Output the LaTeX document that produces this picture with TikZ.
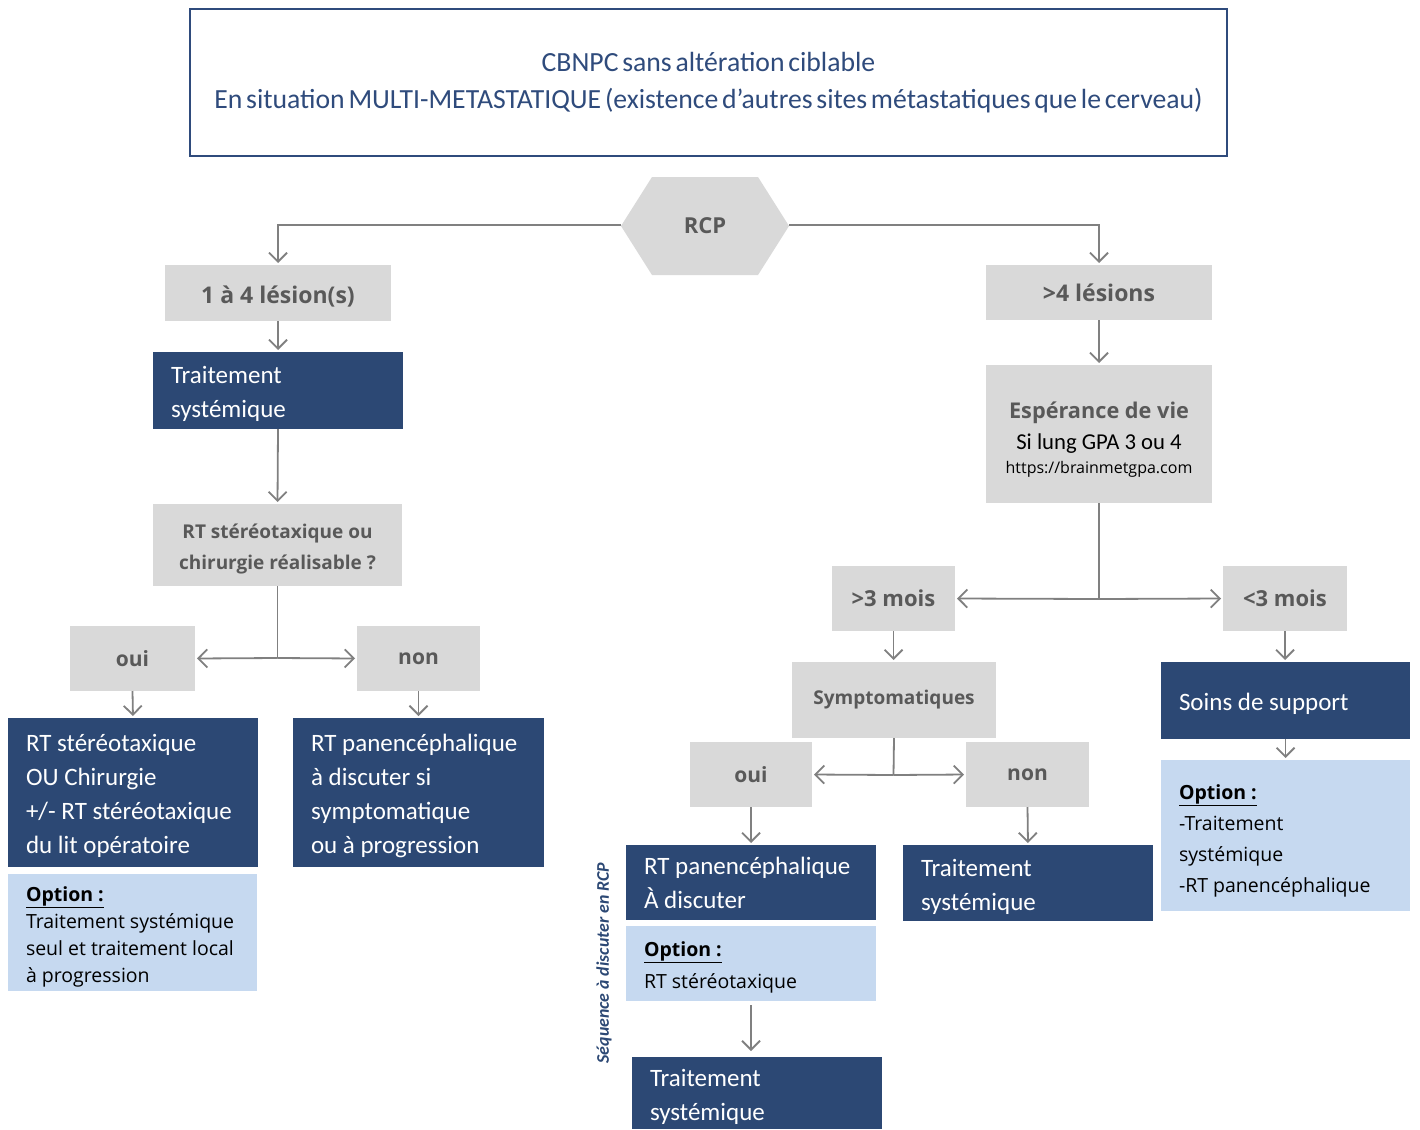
\documentclass[tikz,border=0pt]{standalone}
\usepackage{fontspec}
\setmainfont{Carlito}
\newfontfamily\titlefont{Carlito}[WordSpace=0.6]
\newfontfamily\osans{Open Sans}
\usetikzlibrary{arrows.meta}
\definecolor{dblue}{HTML}{2C4874}
\definecolor{tblue}{HTML}{2F4B7C}
\definecolor{lblue}{HTML}{C6D9F0}
\definecolor{lgray}{HTML}{D9D9D9}
\definecolor{tgray}{HTML}{595959}
\definecolor{agray}{HTML}{808080}
\tikzset{
  base/.style={inner sep=0pt, outer sep=0pt, anchor=center},
  gbox/.style={base, fill=lgray, text=tgray, align=center, font={\osans\bfseries\fontsize{21}{31}\selectfont}},
  bbox/.style={base, fill=dblue, text=white, align=flush left, inner xsep=18pt, font={\fontsize{25}{34}\selectfont}},
  pushdown/.style={execute at begin node={\rule{0pt}{#1}}},
  obox/.style={base, fill=lblue, text=black, align=flush left, inner xsep=18pt, font={\osans\fontsize{19.5}{27}\selectfont}},
  arr/.style={draw=agray, line width=1.8pt, -{Straight Barb[length=9pt,width=18pt,line width=1.8pt]}, shorten >=2pt},
  ln/.style={draw=agray, line width=1.8pt},
}
\newcommand{\opt}{\textbf{\underline{Option :}}}
\begin{document}
\begin{tikzpicture}[x=1pt,y=-1pt]
\useasboundingbox[fill=white] (0,0) rectangle (1420,1129);
% title
\node[base, draw=tblue, line width=2pt, minimum width=1037pt, minimum height=147pt, text=tblue, align=center, font={\titlefont\fontsize{27.7}{37}\selectfont}] (title) at (708.5,82.5)
  {CBNPC sans altération ciblable\\En situation MULTI-METASTATIQUE (existence d’autres sites métastatiques que le cerveau)};
% RCP hexagon
\coordinate (rcpL) at (621,225);
\coordinate (rcpR) at (789,225);
\fill[lgray] (621,226) -- (652,177) -- (758,177) -- (789,226) -- (758,275) -- (652,275) -- cycle;
\node[base, text=tgray, font={\osans\bfseries\fontsize{22}{26}\selectfont}] (rcp) at (705,226) {RCP};
% left branch
\node[gbox, minimum width=226pt, minimum height=56pt, font={\osans\bfseries\fontsize{23}{28}\selectfont}, pushdown=25pt] (l14) at (278,293) {1 à 4 lésion(s)};
\node[bbox, minimum width=250pt, minimum height=77pt, text width=214pt, pushdown=25pt] (ts1) at (278,390.5) {Traitement\\systémique};
\node[gbox, minimum width=249pt, minimum height=82pt, font={\osans\bfseries\fontsize{19}{31}\selectfont}] (rtq) at (277.5,545) {\rule{0pt}{22pt}RT stéréotaxique ou\\chirurgie réalisable ?};
\coordinate (j1) at (277.5,658);
\node[gbox, minimum width=125pt, minimum height=65pt] (oui1) at (132.5,658.5) {oui};
\node[gbox, minimum width=123pt, minimum height=65pt] (non1) at (418.5,658.5) {non};
\node[bbox, minimum width=250pt, minimum height=149pt, text width=214pt, pushdown=25pt] (b1) at (133,792.5) {RT stéréotaxique\\OU Chirurgie\\+/- RT stéréotaxique\\du lit opératoire};
\node[obox, minimum width=249pt, minimum height=117pt, text width=213pt] (o1) at (132.5,932.5) {\rule{0pt}{23pt}\opt\\Traitement systémique\\seul et traitement local\\à progression};
\node[bbox, minimum width=251pt, minimum height=149pt, text width=215pt, pushdown=25pt] (b2) at (418.5,792.5) {RT panencéphalique\\à discuter si\\symptomatique\\ou à progression};
% right branch
\node[gbox, minimum width=226pt, minimum height=55pt, font={\osans\bfseries\fontsize{23}{28}\selectfont}] (g4) at (1099,292.5) {>4 lésions};
\node[base, fill=lgray, minimum width=226pt, minimum height=138pt, align=center] (esp) at (1099,434)
  {{\osans\bfseries\color{tgray}\fontsize{21.7}{21}\selectfont\rule{0pt}{27pt}Espérance de vie}\\[9pt]
   {\fontsize{22.7}{21}\selectfont Si lung GPA 3 ou 4}\\[7pt]
   {\osans\fontsize{16}{15}\selectfont https://brainmetgpa.com}};
\coordinate (j2) at (1099,599);
\node[gbox, minimum width=123pt, minimum height=65pt, font={\osans\bfseries\fontsize{22}{28}\selectfont}] (m3g) at (893.5,598.5) {>3 mois};
\node[gbox, minimum width=124pt, minimum height=65pt, font={\osans\bfseries\fontsize{22}{28}\selectfont}] (m3l) at (1285,598.5) {<3 mois};
\node[gbox, minimum width=204pt, minimum height=76pt, font={\osans\bfseries\fontsize{19}{22}\selectfont}] (sym) at (894,700) {Symptomatiques};
\coordinate (j3) at (893.5,775);
\node[gbox, minimum width=122pt, minimum height=65pt] (oui2) at (751,774.5) {oui};
\node[gbox, minimum width=123pt, minimum height=65pt] (non2) at (1027.5,774.5) {non};
\node[bbox, minimum width=250pt, minimum height=75pt, text width=214pt] (b3) at (751,882.5) {RT panencéphalique\\À discuter};
\node[obox, minimum width=250pt, minimum height=75pt, text width=214pt, font={\osans\fontsize{19.5}{32}\selectfont}] (o3) at (751,963.5) {\rule{0pt}{22pt}\opt\\RT stéréotaxique};
\node[bbox, minimum width=250pt, minimum height=72pt, text width=214pt, pushdown=25pt] (b4) at (757,1093) {Traitement\\systémique};
\node[bbox, minimum width=250pt, minimum height=76pt, text width=214pt, pushdown=25pt] (b5) at (1028,883) {Traitement\\systémique};
\node[bbox, minimum width=249pt, minimum height=77pt, text width=213pt, pushdown=25pt] (ss) at (1285.5,700.5) {Soins de support};
\node[obox, minimum width=249pt, minimum height=151pt, text width=213pt, font={\osans\fontsize{19.5}{31}\selectfont}] (o5) at (1285.5,835.5) {\rule{0pt}{25pt}\opt\\-Traitement\\systémique\\-RT panencéphalique};
\node[base, rotate=90, text=dblue, font={\bfseries\itshape\fontsize{17.8}{20}\selectfont}] (seq) at (604,963) {Séquence à discuter en RCP};
% connectors
\draw[arr] (rcpL) -| (l14.north);
\draw[arr] (rcpR) -| (g4.north);
\draw[arr] (l14.south) -- (ts1.north);
\draw[arr] (ts1.south) -- (rtq.north);
\draw[ln] (rtq.south) -- (j1);
\draw[arr] (j1) -- (oui1.east);
\draw[arr] (j1) -- (non1.west);
\draw[arr] (oui1.south) -- (b1.north);
\draw[arr] (non1.south) -- (b2.north);
\draw[arr] (g4.south) -- (esp.north);
\draw[ln] (esp.south) -- (j2);
\draw[arr] (j2) -- (m3g.east);
\draw[arr] (j2) -- (m3l.west);
\draw[arr] (m3g.south) -- (m3g.south |- sym.north);
\draw[ln] (sym.south) -- (j3);
\draw[arr] (j3) -- (oui2.east);
\draw[arr] (j3) -- (non2.west);
\draw[arr] (oui2.south) -- (b3.north);
\draw[arr] (non2.south) -- (b5.north);
\draw[arr, shorten <=4pt, shorten >=6pt] (o3.south) -- (o3.south |- b4.north);
\draw[arr] (m3l.south) -- (m3l.south |- ss.north);
\draw[arr] (ss.south) -- (o5.north);
\end{tikzpicture}
\end{document}
